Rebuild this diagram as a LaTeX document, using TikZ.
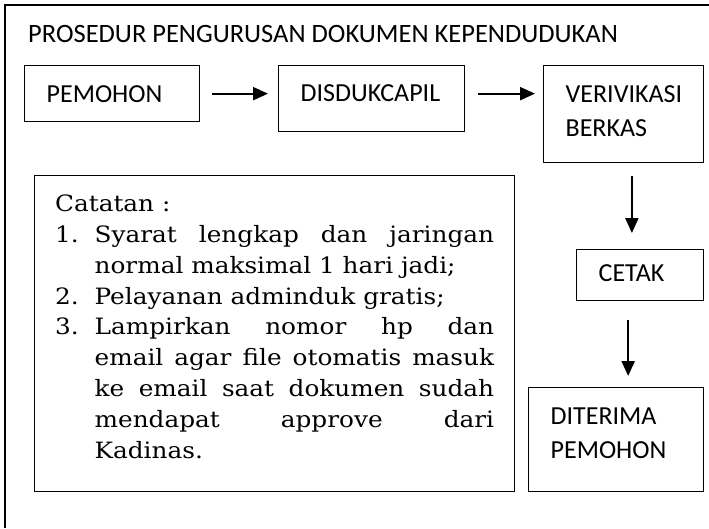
\documentclass[tikz,border=0pt]{standalone}
\usepackage{fontspec}
\setmainfont{Carlito}
\newfontfamily\catatanfont[FakeStretch=1.10]{DejaVu Serif}
\usetikzlibrary{arrows.meta,calc}

\tikzset{
  kotak/.style={draw, line width=1.3pt, anchor=north west, align=left,
    inner xsep=22pt, inner ysep=0pt,
    font=\fontsize{26}{34}\selectfont},
  catatanbox/.style={draw, line width=1.3pt, anchor=north west, align=justify,
    inner xsep=20.5pt, inner ysep=0pt,
    font=\catatanfont\fontsize{22.5}{30.8}\selectfont},
  panah/.style={-{Triangle[length=15pt,width=13pt]}, line width=2.2pt},
}

\begin{document}
\begin{tikzpicture}[x=1pt,y=-1pt]
    \useasboundingbox (0,0) rectangle (709,528);
    % bingkai luar
    \draw[line width=1.3pt] (709,5) -- (5,5) -- (5,528);
    \node[anchor=base west, inner sep=0pt, font=\fontsize{26.5}{30}\selectfont] (judul) at (28,42)
        {PROSEDUR PENGURUSAN DOKUMEN KEPENDUDUKAN};
    % alur
    \node[kotak, text width=131pt, text height=37pt, text depth=19pt] (pemohon) at (24,65) {PEMOHON};
    \node[kotak, text width=142pt, text height=36pt, text depth=30pt] (disduk) at (278,65) {DISDUKCAPIL};
    \node[kotak, text width=116pt, text height=37pt, text depth=60pt] (verif) at (543,65) {VERIVIKASI\\BERKAS};
    \node[kotak, text width=83pt, text height=32pt, text depth=19pt] (cetak) at (576,249) {CETAK};
    \node[kotak, text width=131pt, text height=37pt, text depth=67pt] (terima) at (528,387) {DITERIMA\\PEMOHON};
    % catatan
    \node[catatanbox, text width=439pt, text height=36pt, text depth=280pt] (catatan) at (34,175) {%
        \sloppy\hbadness=10000
        Catatan :\par
        \hangindent=39.5pt\hangafter=1
        \makebox[39.5pt][l]{1.}Syarat lengkap dan jaringan\linebreak
        normal maksimal 1 hari jadi;\par
        \hangindent=39.5pt\hangafter=1
        \makebox[39.5pt][l]{2.}Pelayanan adminduk gratis;\par
        \hangindent=39.5pt\hangafter=1
        \makebox[39.5pt][l]{3.}Lampirkan nomor hp dan\linebreak
        email agar file otomatis masuk\linebreak
        ke email saat dokumen sudah\linebreak
        mendapat approve dari\linebreak
        Kadinas.\par};
    % panah
    \coordinate (p3) at ($(verif.south)!.5!(cetak.north)$);
    \coordinate (p4) at ($(cetak.south)!.5!(terima.north)$);
    \draw[panah, shorten <=12pt, shorten >=10pt] (pemohon.east) -- (pemohon.east -| disduk.west);
    \draw[panah, shorten <=13pt, shorten >=8pt] (pemohon.east -| disduk.east) -- (pemohon.east -| verif.west);
    \draw[panah, shorten <=13pt, shorten >=16pt] (p3 |- verif.south) -- (p3 |- cetak.north);
    \draw[panah, shorten <=19pt, shorten >=11pt] (p4 |- cetak.south) -- (p4 |- terima.north);
\end{tikzpicture}
\end{document}
